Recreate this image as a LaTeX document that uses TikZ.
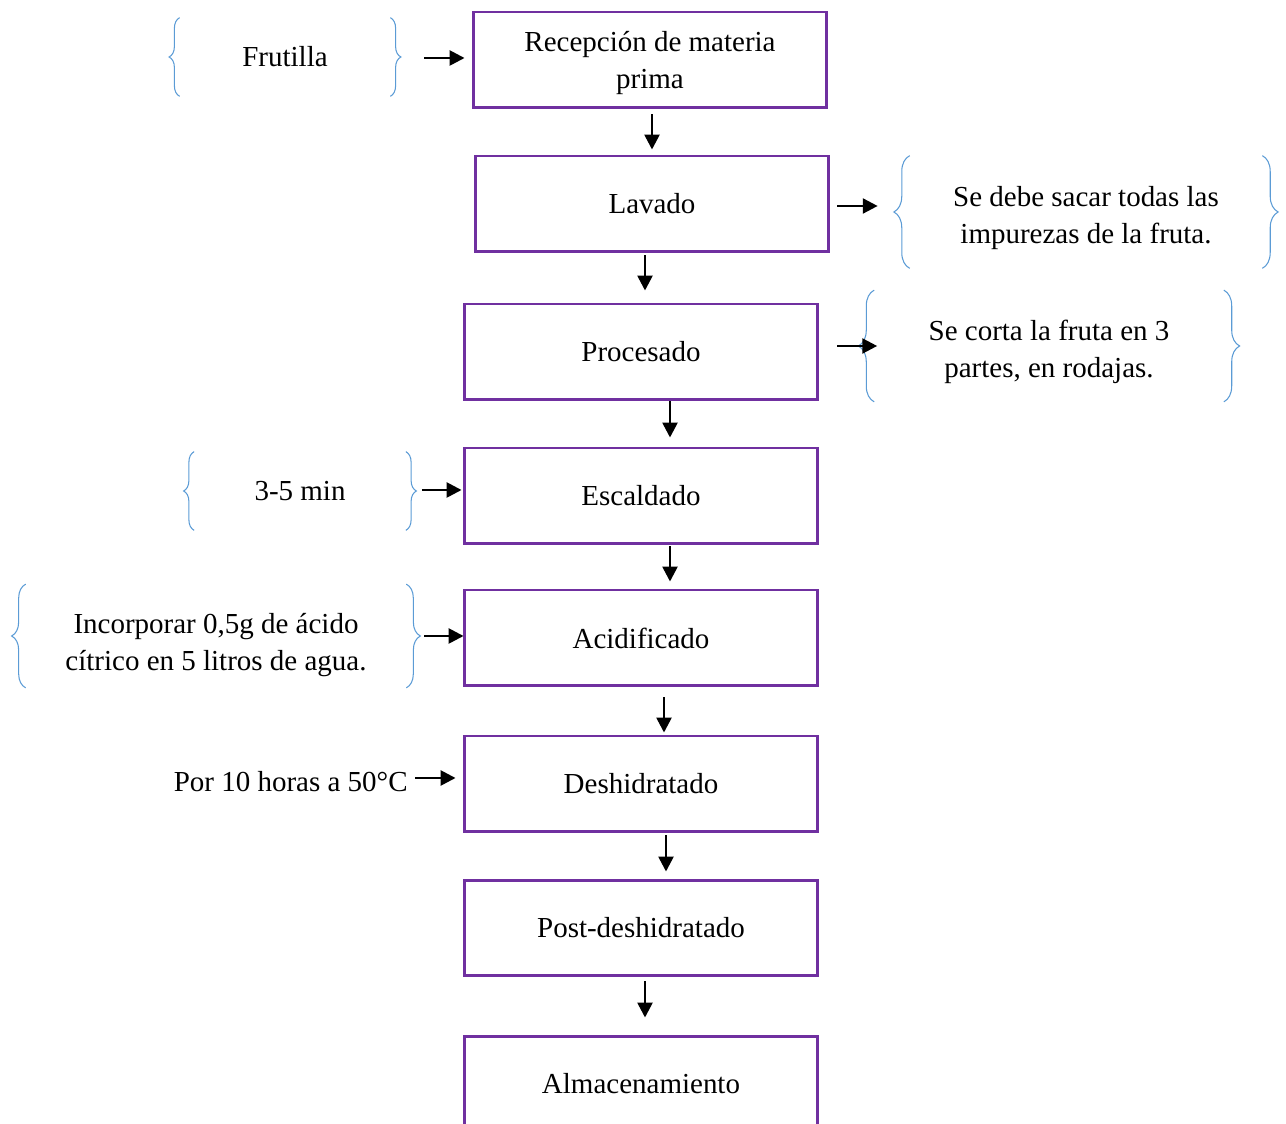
\documentclass[tikz,border=0pt]{standalone}
\usepackage{fontspec}
\setmainfont{Liberation Serif}
\usetikzlibrary{arrows.meta,calc,decorations.pathreplacing}
\definecolor{moradoborde}{HTML}{7030A0}
\definecolor{azulllave}{HTML}{5B9BD5}
% puntal para bajar un poco los textos de dos lineas
\newcommand{\bajar}[1]{\rule{0pt}{#1}}

\begin{document}
\begin{tikzpicture}[x=0.02cm, y=-0.02cm,
  every node/.style={font=\fontsize{16.5}{21}\selectfont, align=center},
  paso/.style={draw=moradoborde, line width=1.7pt, minimum width=7.08cm, minimum height=1.92cm, inner sep=0pt},
  nota/.style={inner sep=0pt},
  flecha/.style={line width=1.5pt, -{Triangle[length=8.5pt,width=8.5pt]}},
  llave/.style={draw=azulllave, line width=0.6pt, decorate, decoration={brace, amplitude=#1}},
  llave/.default=6pt]
\useasboundingbox (0,0) rectangle (1286,1124);

% etapas del proceso
\node[paso] (rec) at (650,60) {\bajar{15pt}Recepción de materia\\prima};
\node[paso] (lav) at (652,204) {Lavado};
\node[paso] (pro) at (641,352) {Procesado};
\node[paso] (esc) at (641,496) {Escaldado};
\node[paso] (aci) at (641,638) {Acidificado};
\node[paso] (des) at (641,784) {Deshidratado};
\node[paso] (post) at (641,928) {Post-deshidratado};
\node[paso] (alm) at (641,1084) {Almacenamiento};

% notas entre llaves
\node[nota, minimum width=4.2cm, minimum height=1.56cm] (frut) at (285,57) {Frutilla};
\node[nota, minimum width=7.04cm, minimum height=2.24cm] (lavn) at (1086,212) {\bajar{18pt}Se debe sacar todas las\\impurezas de la fruta.};
\node[nota, minimum width=6.98cm, minimum height=2.22cm] (pron) at (1049,346) {\bajar{18pt}Se corta la fruta en 3\\partes, en rodajas.};
\node[nota, minimum width=4.22cm, minimum height=1.56cm] (tmin) at (300,491) {3-5 min};
\node[nota, minimum width=7.6cm, minimum height=2.06cm] (acin) at (216,636) {\bajar{22pt}Incorporar 0,5g de ácido\\cítrico en 5 litros de agua.};
\node[nota, anchor=east] (hrs) at (408,782) {Por 10 horas a 50°C};

\draw[llave] (frut.south west) -- (frut.north west);
\draw[llave] (frut.north east) -- (frut.south east);
\draw[llave=9pt] (lavn.south west) -- (lavn.north west);
\draw[llave=9pt] (lavn.north east) -- (lavn.south east);
\draw[llave=9pt] (pron.south west) -- (pron.north west);
\draw[llave=9pt] (pron.north east) -- (pron.south east);
\draw[llave] (tmin.south west) -- (tmin.north west);
\draw[llave] (tmin.north east) -- (tmin.south east);
\draw[llave=8pt] (acin.south west) -- (acin.north west);
\draw[llave=8pt] (acin.north east) -- (acin.south east);

% flechas laterales
\draw[flecha] ($(frut.east)+(34,1)$) -- ($(rec.west |- frut.east)+(-7,1)$);
\draw[flecha] ($(lav.east)+(7,2)$) -- ($(lavn.west |- lav.east)+(-32,2)$);
\draw[flecha] ($(pro.east)+(18,-6)$) -- ($(pron.west |- pro.east)+(3,-6)$);
\draw[flecha] ($(tmin.east |- esc.west)+(16,-6)$) -- ($(esc.west)+(-1,-6)$);
\draw[flecha] ($(acin.east |- aci.west)+(18,-2)$) -- ($(aci.west)+(1,-2)$);
\draw[flecha] ($(hrs.east)+(7,-4)$) -- ($(des.west |- hrs.east)+(-7,-4)$);

% flechas entre etapas
\draw[flecha] ($(rec.south)+(2,5)$) -- ($(lav.north)+(0,-5)$);
\draw[flecha] ($(lav.south)+(-7,2)$) -- ($(lav.south |- pro.north)+(-7,-12)$);
\draw[flecha] ($(pro.south)+(29,0)$) -- ($(esc.north)+(29,-9)$);
\draw[flecha] ($(esc.south)+(29,1)$) -- ($(aci.north)+(29,-7)$);
\draw[flecha] ($(aci.south)+(23,10)$) -- ($(des.north)+(23,-2)$);
\draw[flecha] ($(des.south)+(25,2)$) -- ($(post.north)+(25,-7)$);
\draw[flecha] ($(post.south)+(4,4)$) -- ($(alm.north)+(4,-17)$);
\end{tikzpicture}
\end{document}
